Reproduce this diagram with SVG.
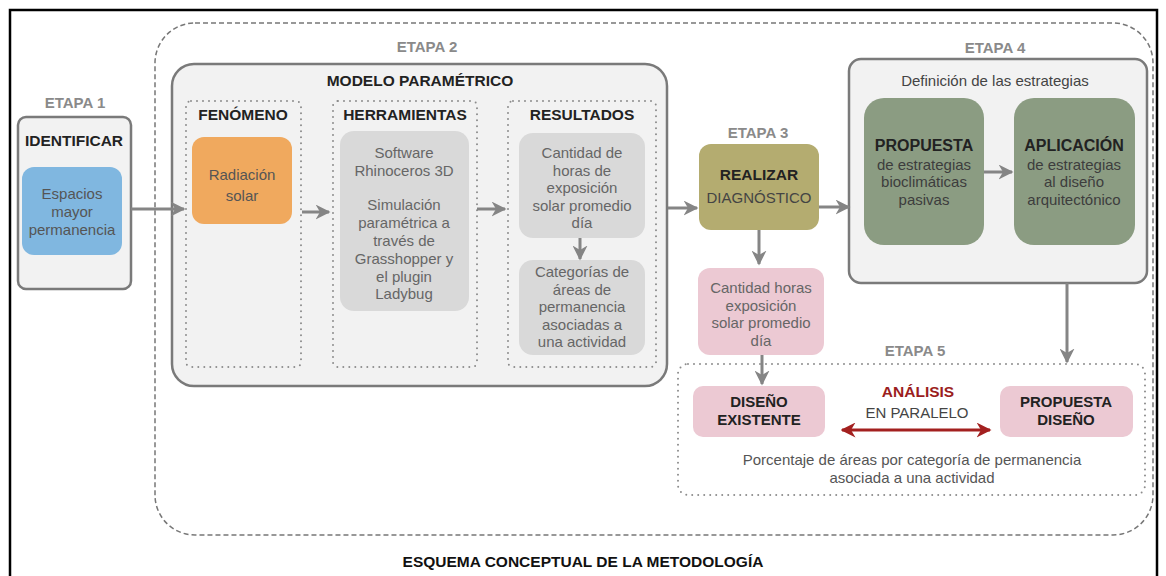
<svg xmlns="http://www.w3.org/2000/svg" width="1166" height="576" viewBox="0 0 1166 576">
<defs>
<marker id="ah" viewBox="0 0 10 10" refX="9" refY="5" markerWidth="5" markerHeight="5" orient="auto" markerUnits="strokeWidth">
<path d="M0,0 L10,5 L0,10 L3,5 z" fill="#858585"/>
</marker>
<marker id="ahr" viewBox="0 0 10 10" refX="9" refY="5" markerWidth="5" markerHeight="5" orient="auto-start-reverse" markerUnits="strokeWidth">
<path d="M0,0 L10,5 L0,10 L3,5 z" fill="#a3201f"/>
</marker>
<style>
text{font-family:"Liberation Sans",Arial,sans-serif;text-anchor:middle}
.et{font-size:15px;font-weight:bold;fill:#8a8a8a}
.h{font-size:15px;font-weight:bold;fill:#222}
.b{font-size:15px;fill:#666}
.bd{font-weight:bold;fill:#222}
.panel{fill:#f2f2f2;stroke:#7a7a7a;stroke-width:2.5}
.dot{fill:none;stroke:#8c8c8c;stroke-width:2;stroke-dasharray:0 6;stroke-linecap:round}
.gbox{fill:#d9d9d9}
.pink{fill:#ecc9d3}
.green{fill:#8b9c82}
.conn{stroke:#858585;stroke-width:3;fill:none;marker-end:url(#ah)}
</style>
</defs>
<rect x="0" y="0" width="1166" height="576" fill="#fff"/>
<rect x="10" y="10" width="1147" height="572" fill="none" stroke="#000" stroke-width="2.5"/>
<rect id="container" x="155" y="23" width="998" height="512" rx="40" fill="none" stroke="#777" stroke-width="1.5" stroke-dasharray="5 3"/>

<g id="etapa1">
<text class="et" x="75" y="108">ETAPA 1</text>
<rect class="panel" x="18" y="117" width="113" height="172" rx="8"/>
<text class="h" x="74" y="146" style="font-size:15.5px">IDENTIFICAR</text>
<rect x="22" y="167" width="100" height="88" rx="12" fill="#80b7e0"/>
<text class="b" style="fill:#555"><tspan x="72" y="199">Espacios</tspan><tspan x="72" dy="18">mayor</tspan><tspan x="72" dy="18">permanencia</tspan></text>
</g>

<g id="etapa2">
<text class="et" x="427" y="52">ETAPA 2</text>
<rect class="panel" x="172" y="64" width="495" height="322" rx="22"/>
<text class="h" x="420" y="86" style="font-size:15.5px">MODELO PARAMÉTRICO</text>
</g>

<g id="fenomeno">
<rect class="dot" x="186" y="101" width="115" height="266" rx="5"/>
<text class="h" x="243" y="120" style="font-size:15.5px">FENÓMENO</text>
<rect x="192" y="137" width="100" height="87" rx="12" fill="#f0a95e"/>
<text class="b" style="fill:#555"><tspan x="242" y="180">Radiación</tspan><tspan x="242" dy="21">solar</tspan></text>
</g>

<g id="herramientas">
<rect class="dot" x="333" y="101" width="144" height="266" rx="5"/>
<text class="h" x="405" y="120" style="font-size:15.5px">HERRAMIENTAS</text>
<rect class="gbox" x="340" y="131" width="129" height="180" rx="14"/>
<text class="b"><tspan x="404" y="158">Software</tspan><tspan x="404" dy="18">Rhinoceros 3D</tspan><tspan x="404" dy="34">Simulación</tspan><tspan x="404" dy="18">paramétrica a</tspan><tspan x="404" dy="18">través de</tspan><tspan x="404" dy="18">Grasshopper y</tspan><tspan x="404" dy="17.5">el plugin</tspan><tspan x="404" dy="17.5">Ladybug</tspan></text>
</g>

<g id="resultados">
<rect class="dot" x="508" y="101" width="148" height="266" rx="5"/>
<text class="h" x="582" y="120" style="font-size:15.5px">RESULTADOS</text>
<rect class="gbox" x="519" y="133" width="126" height="105" rx="14"/>
<text class="b"><tspan x="582" y="158">Cantidad de</tspan><tspan x="582" dy="17.5">horas de</tspan><tspan x="582" dy="17.5">exposición</tspan><tspan x="582" dy="17.5">solar promedio</tspan><tspan x="582" dy="17.5">día</tspan></text>
<rect class="gbox" x="519" y="260" width="126" height="95" rx="14"/>
<text class="b"><tspan x="582" y="277">Categorías de</tspan><tspan x="582" dy="17.5">áreas de</tspan><tspan x="582" dy="17.5">permanencia</tspan><tspan x="582" dy="17.5">asociadas a</tspan><tspan x="582" dy="17.5">una actividad</tspan></text>
</g>

<g id="etapa3">
<text class="et" x="758" y="138">ETAPA 3</text>
<rect x="699" y="144" width="120" height="86" rx="12" fill="#b4ac70"/>
<text class="b" style="fill:#444"><tspan class="bd" x="759" y="180" style="font-size:15.5px">REALIZAR</tspan><tspan x="759" dy="23">DIAGNÓSTICO</tspan></text>
</g>

<g id="cantidad">
<rect class="pink" x="698" y="268" width="126" height="87" rx="12"/>
<text class="b"><tspan x="761" y="293">Cantidad horas</tspan><tspan x="761" dy="17.5">exposición</tspan><tspan x="761" dy="17.5">solar promedio</tspan><tspan x="761" dy="17.5">día</tspan></text>
</g>

<g id="etapa4">
<text class="et" x="995" y="53">ETAPA 4</text>
<rect class="panel" x="849" y="59" width="298" height="224" rx="12"/>
<text class="b" x="995" y="86" style="fill:#444">Definición de las estrategias</text>
<rect class="green" x="864" y="98" width="120" height="147" rx="20"/>
<text class="b" style="fill:#3d3d3d"><tspan class="bd" x="924" y="151" style="font-size:16px">PROPUESTA</tspan><tspan x="924" dy="18.5">de estrategias</tspan><tspan x="924" dy="17.5">bioclimáticas</tspan><tspan x="924" dy="17.5">pasivas</tspan></text>
<rect class="green" x="1014" y="98" width="121" height="147" rx="20"/>
<text class="b" style="fill:#3d3d3d"><tspan class="bd" x="1074" y="151" style="font-size:16px">APLICACIÓN</tspan><tspan x="1074" dy="18.5">de estrategias</tspan><tspan x="1074" dy="17.5">al diseño</tspan><tspan x="1074" dy="17.5">arquitectónico</tspan></text>
</g>

<g id="etapa5">
<text class="et" x="915" y="356">ETAPA 5</text>
<rect class="dot" x="678" y="364" width="467" height="131" rx="10"/>
<rect class="pink" x="693" y="386" width="132" height="51" rx="10"/>
<text class="h"><tspan x="759" y="407">DISEÑO</tspan><tspan x="759" dy="17.5">EXISTENTE</tspan></text>
<rect class="pink" x="1000" y="386" width="133" height="51" rx="10"/>
<text class="h"><tspan x="1066" y="407">PROPUESTA</tspan><tspan x="1066" dy="17.5">DISEÑO</tspan></text>
<text class="b" style="fill:#444"><tspan x="918" y="397" style="font-weight:bold;fill:#9b1d20;font-size:15.5px">ANÁLISIS</tspan><tspan x="917" dy="21">EN PARALELO</tspan></text>
<text class="b" style="fill:#555"><tspan x="912" y="465">Porcentaje de áreas por categoría de permanencia</tspan><tspan x="912" dy="17.5">asociada a una actividad</tspan></text>
</g>

<g id="connectors">
<line class="conn" x1="131" y1="209" x2="184" y2="209"/>
<line class="conn" x1="302" y1="212" x2="329" y2="212"/>
<line class="conn" x1="477" y1="209" x2="505" y2="209"/>
<line class="conn" x1="580" y1="238" x2="580" y2="259"/>
<line class="conn" x1="668" y1="208" x2="697" y2="208"/>
<line class="conn" x1="819" y1="207" x2="849" y2="207"/>
<line class="conn" x1="759" y1="230" x2="759" y2="264"/>
<line class="conn" x1="762" y1="355" x2="762" y2="384"/>
<line class="conn" x1="984" y1="172" x2="1012" y2="172"/>
<line class="conn" x1="1067" y1="283" x2="1067" y2="362"/>
<line x1="842" y1="430" x2="990" y2="430" stroke="#a3201f" stroke-width="3" marker-start="url(#ahr)" marker-end="url(#ahr)"/>
</g>

<text id="title" x="583" y="567" style="font-size:15.5px;font-weight:bold;fill:#111">ESQUEMA CONCEPTUAL DE LA METODOLOGÍA</text>
</svg>
